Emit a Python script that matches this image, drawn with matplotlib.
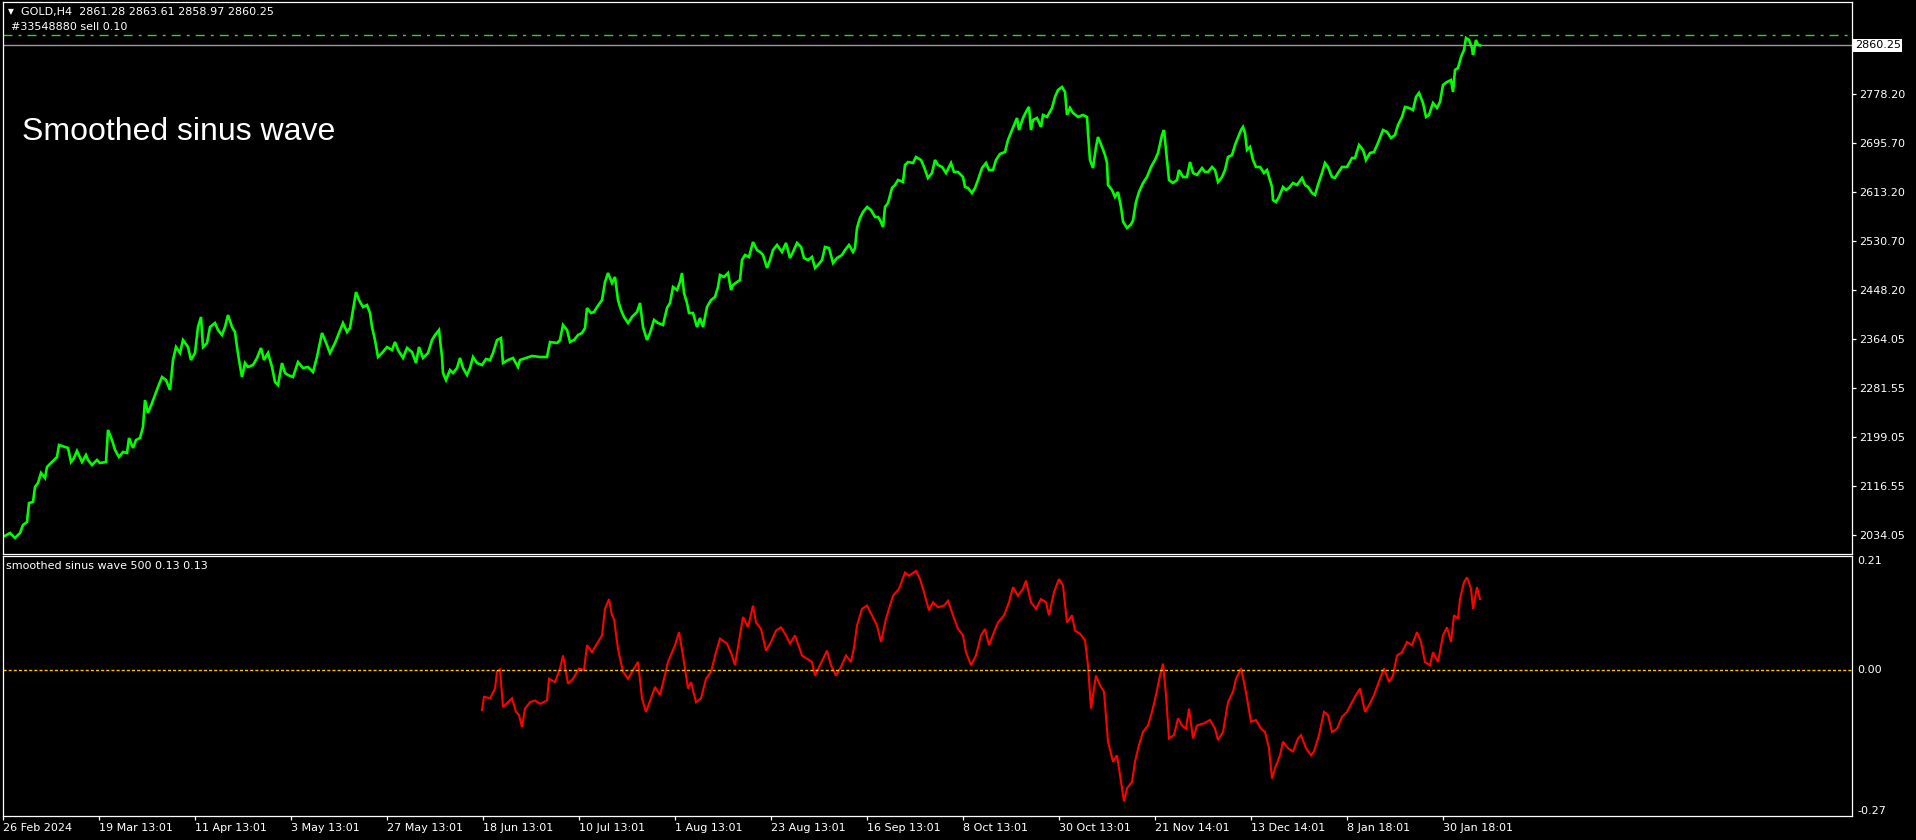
import matplotlib
matplotlib.use('Agg')
import matplotlib.pyplot as plt
from matplotlib.transforms import blended_transform_factory as blend

# ---------------- data ----------------
price_bar = [
    3, 10, 15, 20, 23, 27, 29, 33, 35, 38,
    41, 45, 47, 52, 57, 59, 65, 68, 71, 74,
    77, 82, 86, 88, 92, 97, 100, 106, 108, 112,
    115, 119, 123, 127, 129, 133, 136, 140, 143, 145,
    148, 152, 155, 158, 162, 166, 170, 173, 176, 180,
    183, 188, 191, 195, 198, 201, 203, 207, 210, 215,
    218, 222, 225, 228, 232, 235, 237, 239, 242, 245,
    248, 253, 257, 261, 264, 268, 272, 275, 278, 282,
    285, 288, 293, 298, 303, 308, 313, 317, 319, 322,
    325, 330, 335, 339, 343, 347, 350, 353, 356, 359,
    363, 367, 370, 372, 375, 378, 382, 387, 392, 395,
    398, 403, 407, 412, 416, 419, 423, 428, 432, 435,
    439, 442, 443, 446, 450, 453, 457, 460, 463, 467,
    470, 473, 477, 482, 486, 490, 493, 497, 501, 503,
    508, 513, 518, 520, 532, 540, 547, 550, 557, 560,
    563, 567, 570, 574, 578, 582, 585, 587, 591, 594,
    597, 602, 605, 608, 612, 615, 618, 621, 624, 628,
    632, 637, 640, 643, 647, 650, 654, 658, 663, 667,
    670, 673, 677, 680, 682, 684, 687, 689, 693, 697,
    700, 703, 707, 711, 715, 718, 720, 724, 728, 731,
    733, 737, 740, 742, 745, 749, 753, 757, 760, 763,
    767, 770, 773, 777, 782, 786, 790, 793, 797, 801,
    804, 808, 812, 815, 818, 822, 825, 829, 833, 837,
    842, 845, 849, 853, 855, 857, 860, 863, 867, 871,
    875, 878, 880, 883, 885, 888, 892, 895, 898, 903,
    905, 908, 913, 916, 921, 924, 928, 932, 935, 938,
    942, 946, 951, 954, 958, 963, 965, 968, 972, 975,
    978, 982, 986, 989, 993, 996, 1000, 1005, 1008, 1012,
    1017, 1019, 1023, 1027, 1029, 1031, 1033, 1037, 1041, 1043,
    1047, 1052, 1055, 1058, 1062, 1065, 1067, 1070, 1073, 1078,
    1083, 1087, 1088, 1090, 1093, 1096, 1098, 1102, 1105, 1107,
    1108, 1112, 1115, 1118, 1121, 1123, 1127, 1131, 1133, 1136,
    1139, 1143, 1147, 1151, 1155, 1158, 1162, 1164, 1167, 1169,
    1173, 1177, 1179, 1183, 1187, 1190, 1193, 1197, 1202, 1205,
    1208, 1212, 1215, 1218, 1222, 1225, 1228, 1232, 1235, 1237,
    1241, 1243, 1245, 1247, 1250, 1253, 1256, 1260, 1264, 1267,
    1269, 1272, 1273, 1276, 1279, 1283, 1286, 1289, 1293, 1297,
    1302, 1305, 1308, 1312, 1315, 1318, 1322, 1325, 1328, 1332,
    1335, 1338, 1342, 1347, 1352, 1355, 1359, 1363, 1366, 1370,
    1374, 1378, 1383, 1387, 1391, 1395, 1398, 1402, 1405, 1409,
    1413, 1416, 1419, 1423, 1426, 1429, 1433, 1437, 1440, 1443,
    1447, 1451, 1453, 1455, 1458, 1461, 1464, 1466, 1469, 1472,
    1473, 1476, 1478, 1480,
]

price_close = [
    2030.7, 2037.4, 2029.0, 2037.4, 2050.9, 2056.0, 2088.0, 2089.7, 2115.0, 2121.8,
    2138.7, 2130.2, 2148.8, 2157.2, 2165.7, 2185.9, 2182.5, 2180.9, 2157.2, 2164.0,
    2175.8, 2157.2, 2169.0, 2160.6, 2152.2, 2160.6, 2155.5, 2157.2, 2211.2, 2194.3,
    2177.5, 2165.7, 2174.1, 2172.4, 2197.7, 2180.9, 2194.3, 2197.7, 2216.3, 2261.8,
    2239.9, 2256.7, 2270.2, 2283.7, 2300.6, 2295.5, 2278.7, 2329.3, 2351.2, 2341.1,
    2363.0, 2351.2, 2329.3, 2341.1, 2385.0, 2401.9, 2351.2, 2358.0, 2385.0, 2391.7,
    2379.9, 2371.5, 2385.0, 2405.2, 2385.0, 2376.5, 2351.2, 2329.3, 2300.6, 2324.2,
    2317.5, 2320.9, 2332.7, 2349.6, 2329.3, 2341.1, 2317.5, 2292.2, 2287.1, 2324.2,
    2307.4, 2304.0, 2300.6, 2325.9, 2315.8, 2317.5, 2309.1, 2334.4, 2351.2, 2374.9,
    2363.0, 2341.1, 2358.0, 2374.9, 2391.7, 2376.5, 2383.3, 2413.7, 2444.0, 2430.5,
    2418.7, 2422.1, 2408.6, 2385.0, 2363.0, 2334.4, 2341.1, 2351.2, 2346.2, 2359.7,
    2346.2, 2332.7, 2349.6, 2342.8, 2324.2, 2351.2, 2332.7, 2341.1, 2363.0, 2371.5,
    2379.9, 2334.4, 2307.4, 2295.5, 2312.5, 2307.4, 2315.8, 2332.7, 2315.8, 2304.0,
    2315.8, 2334.4, 2324.2, 2320.9, 2331.0, 2329.3, 2341.1, 2363.0, 2366.4, 2324.2,
    2329.3, 2332.7, 2317.5, 2329.3, 2336.1, 2334.4, 2334.4, 2359.7, 2358.0, 2363.0,
    2388.4, 2379.9, 2359.7, 2363.0, 2371.5, 2374.9, 2383.3, 2417.0, 2408.6, 2410.3,
    2418.7, 2430.5, 2460.9, 2476.1, 2459.2, 2469.4, 2430.5, 2413.7, 2401.9, 2391.7,
    2401.9, 2410.3, 2425.5, 2385.0, 2363.0, 2374.9, 2396.8, 2391.7, 2388.4, 2417.0,
    2425.5, 2452.5, 2447.4, 2460.9, 2476.1, 2442.4, 2425.5, 2408.6, 2408.6, 2385.0,
    2400.2, 2385.0, 2418.7, 2430.5, 2435.6, 2452.5, 2472.8, 2469.4, 2476.1, 2447.4,
    2455.9, 2460.9, 2464.3, 2498.0, 2506.5, 2503.1, 2528.4, 2514.9, 2511.6, 2506.5,
    2484.6, 2498.0, 2514.9, 2523.4, 2511.6, 2526.8, 2501.4, 2511.6, 2526.8, 2520.0,
    2501.4, 2498.0, 2503.1, 2484.6, 2489.6, 2498.0, 2520.0, 2518.3, 2493.0, 2501.4,
    2506.5, 2514.9, 2523.4, 2511.6, 2518.3, 2552.1, 2568.9, 2579.0, 2587.5, 2582.4,
    2570.6, 2570.6, 2565.6, 2553.7, 2587.5, 2594.2, 2619.6, 2624.6, 2633.1, 2629.7,
    2658.4, 2663.4, 2661.7, 2671.9, 2666.8, 2655.0, 2636.4, 2644.9, 2666.8, 2658.4,
    2655.0, 2644.9, 2661.7, 2646.6, 2646.6, 2638.1, 2621.3, 2619.6, 2611.1, 2619.6,
    2633.1, 2653.3, 2661.7, 2649.9, 2649.9, 2666.8, 2677.0, 2680.3, 2700.6, 2717.4,
    2737.7, 2717.4, 2737.7, 2751.2, 2756.3, 2717.4, 2734.3, 2737.7, 2722.5, 2742.8,
    2739.4, 2754.6, 2773.1, 2784.9, 2790.0, 2781.6, 2742.8, 2754.6, 2746.2, 2739.4,
    2742.8, 2739.4, 2712.4, 2666.8, 2653.3, 2688.8, 2705.6, 2688.8, 2675.2, 2661.7,
    2624.6, 2616.2, 2604.4, 2612.8, 2587.5, 2563.0, 2552.0, 2558.0, 2565.0, 2595.9,
    2612.8, 2628.0, 2638.1, 2655.0, 2666.8, 2678.6, 2709.0, 2717.4, 2666.8, 2633.1,
    2628.0, 2633.1, 2649.9, 2638.1, 2638.1, 2663.4, 2644.9, 2641.5, 2653.3, 2646.6,
    2646.6, 2655.0, 2649.9, 2629.7, 2638.1, 2649.9, 2671.9, 2675.2, 2692.1, 2700.6,
    2717.4, 2722.5, 2712.4, 2683.7, 2688.8, 2666.8, 2655.0, 2655.0, 2644.9, 2649.9,
    2638.1, 2621.3, 2599.3, 2595.9, 2604.4, 2621.3, 2616.2, 2619.6, 2628.0, 2624.6,
    2636.4, 2624.6, 2621.3, 2611.1, 2607.8, 2624.6, 2644.9, 2661.7, 2655.0, 2638.1,
    2636.4, 2644.9, 2655.0, 2655.0, 2670.2, 2670.2, 2692.1, 2683.7, 2666.8, 2678.6,
    2680.3, 2695.5, 2717.4, 2714.1, 2703.9, 2709.0, 2725.9, 2739.4, 2756.3, 2754.6,
    2751.2, 2773.1, 2779.9, 2763.0, 2739.4, 2742.8, 2763.0, 2754.6, 2764.7, 2793.4,
    2798.4, 2801.8, 2781.6, 2818.7, 2822.1, 2840.6, 2852.4, 2872.7, 2869.3, 2855.8,
    2844.0, 2869.3, 2860.9, 2860.25,
]

sine_bar = [
    482, 484, 490, 495, 497, 500, 503, 508, 512, 516,
    519, 522, 525, 530, 535, 540, 547, 549, 555, 560,
    563, 568, 573, 579, 584, 587, 592, 597, 602, 605,
    609, 612, 614, 618, 623, 628, 633, 638, 642, 646,
    651, 655, 660, 664, 668, 675, 679, 683, 688, 691,
    696, 701, 706, 711, 716, 720, 727, 732, 735, 740,
    743, 748, 753, 756, 761, 766, 771, 776, 781, 786,
    790, 795, 802, 807, 812, 815, 820, 827, 831, 836,
    841, 846, 851, 854, 857, 862, 867, 872, 877, 881,
    886, 893, 899, 905, 909, 916, 920, 924, 929, 933,
    938, 944, 948, 953, 958, 963, 966, 971, 976, 981,
    985, 989, 994, 998, 1004, 1009, 1013, 1018, 1023, 1026,
    1031, 1036, 1041, 1046, 1049, 1054, 1059, 1063, 1067, 1072,
    1075, 1080, 1085, 1088, 1091, 1096, 1100, 1104, 1108, 1113,
    1117, 1121, 1124, 1127, 1132, 1135, 1139, 1143, 1148, 1152,
    1156, 1160, 1163, 1166, 1169, 1174, 1178, 1182, 1186, 1189,
    1193, 1197, 1204, 1210, 1215, 1218, 1223, 1228, 1233, 1236,
    1241, 1244, 1247, 1251, 1256, 1261, 1265, 1269, 1272, 1275,
    1280, 1283, 1288, 1293, 1298, 1301, 1306, 1311, 1314, 1319,
    1324, 1328, 1332, 1337, 1342, 1347, 1352, 1356, 1360, 1365,
    1369, 1374, 1380, 1384, 1389, 1393, 1397, 1402, 1407, 1412,
    1417, 1421, 1425, 1430, 1433, 1438, 1443, 1447, 1451, 1454,
    1458, 1460, 1464, 1467, 1471, 1473, 1477, 1480,
]

sine_val = [
    -0.075, -0.050, -0.053, -0.035, -0.004, 0.000, -0.069, -0.060, -0.053, -0.078,
    -0.084, -0.106, -0.072, -0.060, -0.057, -0.063, -0.057, -0.017, -0.023, 0.002,
    0.026, -0.026, -0.017, 0.002, -0.001, 0.045, 0.032, 0.048, 0.063, 0.112,
    0.130, 0.100, 0.094, 0.038, -0.004, -0.017, -0.001, 0.014, -0.053, -0.078,
    -0.053, -0.032, -0.047, -0.017, 0.014, 0.045, 0.069, 0.026, -0.035, -0.023,
    -0.060, -0.053, -0.017, -0.004, 0.032, 0.057, 0.048, 0.026, 0.008, 0.063,
    0.097, 0.078, 0.118, 0.087, 0.075, 0.035, 0.051, 0.072, 0.078, 0.063,
    0.048, 0.063, 0.026, 0.020, 0.014, -0.011, 0.008, 0.035, 0.008, -0.011,
    0.005, 0.026, 0.014, 0.041, 0.081, 0.112, 0.118, 0.100, 0.081, 0.051,
    0.094, 0.136, 0.149, 0.179, 0.173, 0.182, 0.167, 0.143, 0.109, 0.124,
    0.115, 0.118, 0.127, 0.100, 0.075, 0.063, 0.032, 0.008, 0.026, 0.063,
    0.075, 0.045, 0.069, 0.087, 0.100, 0.124, 0.152, 0.136, 0.149, 0.164,
    0.124, 0.112, 0.130, 0.124, 0.100, 0.143, 0.167, 0.155, 0.087, 0.100,
    0.072, 0.066, 0.054, 0.008, -0.072, -0.011, -0.029, -0.041, -0.133, -0.170,
    -0.158, -0.207, -0.243, -0.219, -0.207, -0.170, -0.139, -0.115, -0.103, -0.078,
    -0.047, -0.011, 0.011, -0.047, -0.127, -0.121, -0.090, -0.103, -0.109, -0.072,
    -0.127, -0.103, -0.099, -0.093, -0.109, -0.130, -0.115, -0.060, -0.041, -0.017,
    0.002, -0.023, -0.053, -0.096, -0.093, -0.109, -0.115, -0.145, -0.201, -0.182,
    -0.158, -0.133, -0.145, -0.151, -0.127, -0.121, -0.145, -0.158, -0.151, -0.121,
    -0.078, -0.084, -0.115, -0.109, -0.087, -0.078, -0.060, -0.047, -0.035, -0.078,
    -0.066, -0.047, -0.017, 0.002, -0.023, -0.011, 0.026, 0.032, 0.051, 0.045,
    0.069, 0.051, 0.014, 0.008, 0.032, 0.014, 0.063, 0.078, 0.051, 0.100,
    0.094, 0.130, 0.161, 0.170, 0.149, 0.112, 0.152, 0.130,
]

price_ticks = [2034.05, 2116.55, 2199.05, 2281.55, 2364.05, 2448.20,
               2530.70, 2613.20, 2695.70, 2778.20]
price_ticklabels = ["2034.05", "2116.55", "2199.05", "2281.55", "2364.05",
                    "2448.20", "2530.70", "2613.20", "2695.70", "2778.20"]

time_tick_bars = [3, 99, 195, 291, 387, 483, 579, 675, 771, 867,
                  963, 1059, 1155, 1251, 1347, 1443]
time_ticklabels = ["26 Feb 2024", "19 Mar 13:01", "11 Apr 13:01", "3 May 13:01",
                   "27 May 13:01", "18 Jun 13:01", "10 Jul 13:01", "1 Aug 13:01",
                   "23 Aug 13:01", "16 Sep 13:01", "8 Oct 13:01", "30 Oct 13:01",
                   "21 Nov 14:01", "13 Dec 14:01", "8 Jan 18:01", "30 Jan 18:01"]

last_price = 2860.25
order_price = 2877.5
sine_levels = [0.21, 0.00, -0.27]
sine_level_labels = ["0.21", "0.00", "-0.27"]

header = "GOLD,H4  2861.28 2863.61 2858.97 2860.25"
order_label = "#33548880 sell 0.10"
chart_title = "Smoothed sinus wave"
indicator_label = "smoothed sinus wave 500 0.13 0.13"

# ---------------- figure ----------------
W, H = 1916, 840
fig = plt.figure(figsize=(W / 100, H / 100), dpi=100, facecolor='black')


def px_rect(x0, y0, x1, y1):
    return [x0 / W, 1 - y1 / H, (x1 - x0) / W, (y1 - y0) / H]


ax = fig.add_axes(px_rect(2.5, 2, 1852, 553.5))
ax2 = fig.add_axes(px_rect(2.5, 555.7, 1852, 816))

for a in (ax, ax2):
    a.set_facecolor('black')
    for s in a.spines.values():
        s.set_color('white')
        s.set_linewidth(0.9)
    a.set_xlim(2.5, 1852)

# --- price panel ---
ax.plot(price_bar, price_close, color='#00FF00', lw=1.9, solid_joinstyle='miter')
ax.axhline(last_price, color='#9a9a9a', lw=1.0)
ax.axhline(order_price, color='#32CD32', lw=1.0, dashes=(6.5, 4.3, 2.2, 4.3))
ax.set_ylim(2002.8, 2933.4)
ax.yaxis.tick_right()
ax.set_yticks(price_ticks)
ax.set_yticklabels(price_ticklabels)
ax.tick_params(axis='y', colors='white', labelcolor='white', labelsize=8,
               length=3, width=0.9, direction='out', pad=2)
ax.tick_params(axis='x', bottom=False, labelbottom=False)
ax.text(1.0015, last_price, "2860.25", transform=blend(ax.transAxes, ax.transData),
        color='black', fontsize=8, ha='left', va='center',
        bbox=dict(facecolor='white', edgecolor='none', pad=1.2))

# --- indicator panel ---
ax2.plot(sine_bar, sine_val, color='#FF0000', lw=1.5, solid_joinstyle='miter')
ax2.axhline(0.0, color='#FFC000', lw=1.0, dashes=(2.2, 1.5))
ax2.set_ylim(-0.27, 0.21)
ax2.set_yticks([])
ax2.set_xticks(time_tick_bars)
ax2.set_xticklabels(time_ticklabels, ha='left')
ax2.tick_params(axis='x', colors='white', labelcolor='white', labelsize=8,
                length=3, width=0.9, direction='out', pad=2)
ytr = blend(ax2.transAxes, ax2.transData)
ax2.text(1.003, sine_levels[0], sine_level_labels[0], transform=ytr, color='white',
         fontsize=8, ha='left', va='top')
ax2.text(1.003, sine_levels[1], sine_level_labels[1], transform=ytr, color='white',
         fontsize=8, ha='left', va='center')
ax2.text(1.003, sine_levels[2], sine_level_labels[2], transform=ytr, color='white',
         fontsize=8, ha='left', va='bottom')

# --- texts ---
fig.text(11 / W, 1 - 12 / H, "\u25BC", color='white', fontsize=5.5, ha='center', va='center')
fig.text(21 / W, 1 - 12 / H, header, color='white', fontsize=8, ha='left', va='center')
fig.text(11 / W, 1 - 27.5 / H, order_label, color='white', fontsize=8, ha='left', va='center')
fig.text(22 / W, 1 - 132 / H, chart_title, color='white', fontsize=23,
         family='Liberation Sans', ha='left', va='center')
fig.text(6 / W, 1 - 566 / H, indicator_label, color='white', fontsize=8, ha='left', va='center')

fig.savefig('out.png', dpi=100, facecolor='black')
